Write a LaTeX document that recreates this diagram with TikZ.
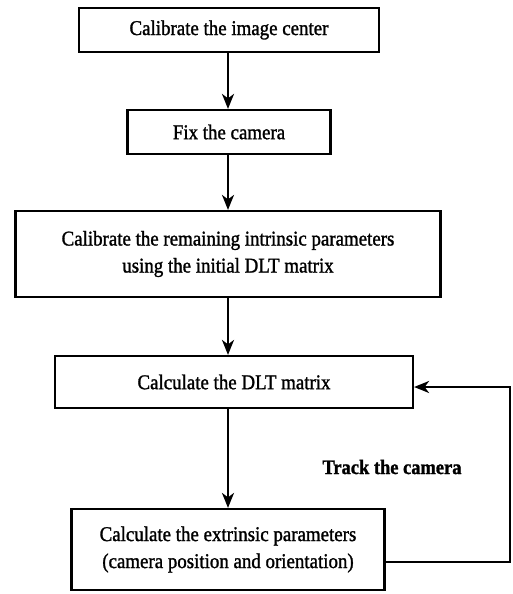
\documentclass[tikz,border=0pt]{standalone}
\usepackage{fontspec}
\setmainfont[FakeStretch=0.9,FakeBold=1.3]{Liberation Serif}
\usetikzlibrary{arrows.meta}
\begin{document}
\begin{tikzpicture}[x=1pt,y=-1pt,
  box/.style={draw=black,line width=2.2pt,rectangle,inner sep=0pt,align=center,
    font=\fontsize{21}{27}\selectfont},
  arr/.style={line width=2.2pt,-{Stealth[length=15pt,width=12pt,inset=4.5pt]}},
  lbl/.style={font=\fontsize{20.5}{24}\selectfont\bfseries}]
\useasboundingbox (0,0) rectangle (513,594);
\node[box,minimum width=300pt,minimum height=44pt] (b1) at (229,30) {Calibrate the image center};
\node[box,minimum width=203pt,minimum height=44pt] (b2) at (229,132) {Fix the camera};
\node[box,minimum width=425pt,minimum height=86pt] (b3) at (228,254) {Calibrate the remaining intrinsic parameters\\using the initial DLT matrix};
\node[box,minimum width=358pt,minimum height=52pt] (b4) at (234,382) {Calculate the DLT matrix};
\node[box,minimum width=313pt,minimum height=81pt] (b5) at (228,549.5) {Calculate the extrinsic parameters\\(camera position and orientation)};
\node[lbl] (t) at (392,467) {Track the camera};
\coordinate (fa) at (510,562);
\coordinate (fb) at (510,387);
\draw[arr] (b1.south -| 228,0) -- (b2.north -| 228,0);
\draw[arr] (b2.south -| 228,0) -- (b3.north -| 228,0);
\draw[arr] (b3.south -| 228,0) -- (b4.north -| 228,0);
\draw[arr] (b4.south -| 228,0) -- (b5.north -| 228,0);
\draw[arr,line join=miter] (b5.east |- fa) -- (fa) -- (fb) -- (b4.east |- fb);
\end{tikzpicture}
\end{document}
